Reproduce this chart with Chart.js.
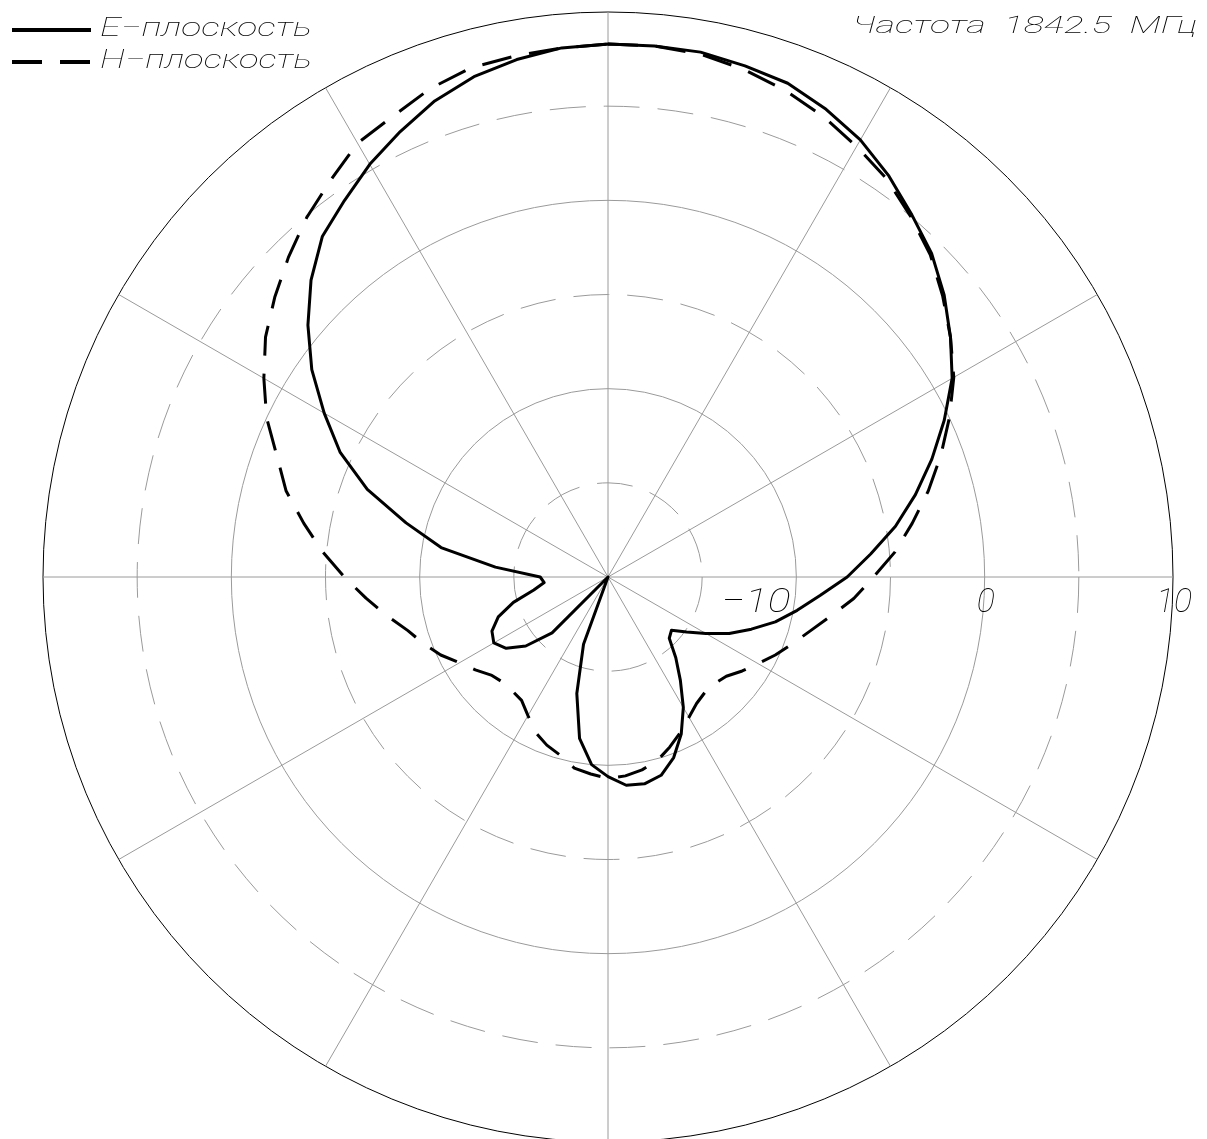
<!DOCTYPE html>
<html>
<head>
<meta charset="utf-8">
<script src="https://cdn.jsdelivr.net/npm/chart.js@4.4.1/dist/chart.umd.min.js"></script>
<style>
  html, body { margin: 0; padding: 0; overflow: hidden; background: #fff; }
  #wrap { position: relative; width: 1207px; height: 1156px; }
</style>
</head>
<body>
<div id="wrap"><canvas id="patternChart"></canvas></div>
<script>
// angle in degrees, clockwise from the top
const angles = [0, 5, 10, 15, 20, 25, 30, 35, 40, 45, 50, 55,
                60, 65, 70, 75, 80, 85, 90, 95, 100, 105, 110, 115,
                120, 125, 130, 135, 140, 145, 150, 155, 160, 165, 170, 175,
                180, 185, 190, 195, 200, 205, 210, 215, 220, 225, 230, 235,
                240, 245, 250, 255, 260, 265, 270, 275, 280, 285, 290, 295,
                300, 305, 310, 315, 320, 325, 330, 335, 340, 345, 350, 355];

// level, dB
const ePlane = [8.3, 8.3, 8.3, 8.1, 7.9, 7.4, 6.8, 6.0, 5.1, 4.3, 3.3, 2.2,
                1.1, -0.3, -1.7, -3.1, -4.5, -6.0, -7.3, -8.7, -9.8, -10.8, -11.9, -12.9,
                -14.0, -14.9, -15.6, -15.4, -14.4, -13.3, -12.0, -10.8, -9.8, -9.1, -8.85, -8.9,
                -9.4, -10.0, -11.3, -13.6, -16.2, -20, -20, -20, -20, -15.8, -14.3, -13.4,
                -13.0, -13.2, -13.8, -14.8, -16.0, -16.6, -16.4, -14.0, -11.0, -8.9, -6.4, -4.3,
                -2.6, -0.8, 0.8, 2.3, 3.6, 4.4, 5.3, 6.1, 6.9, 7.5, 7.9, 8.2];

const hPlane = [8.3, 8.3, 8.2, 7.9, 7.5, 7.0, 6.4, 5.8, 5.0, 4.2, 3.2, 2.2,
                1.2, 0.0, -1.2, -2.4, -3.6, -4.7, -5.9, -6.9, -8.0, -8.9, -9.6, -10.2,
                -10.8, -11.3, -11.8, -12.0, -12.0, -11.8, -11.4, -10.9, -10.4, -9.9, -9.6, -9.4,
                -9.3, -9.5, -9.7, -10.2, -10.5, -10.9, -11.5, -12.0, -12.1, -12.1, -11.9, -11.4,
                -10.9, -10.2, -9.6, -9.0, -8.1, -7.1, -6.0, -4.8, -3.6, -2.3, -1.3, 0.0,
                1.1, 2.2, 3.1, 4.0, 4.9, 5.7, 6.6, 7.0, 7.6, 8.0, 8.1, 8.2];

const tickLabels = [-10, 0, 10];
const seriesNames = ['E\u2212плоскость', 'H\u2212плоскость'];
const titleText = 'Частота  1842.5  МГц';

const textFont = '"Roboto", "DejaVu Sans", sans-serif';

// text squeezed or stretched to a given width (the original uses a wide CAD font)
function fitText(ctx, text, x, y, width) {
    const w = ctx.measureText(text).width;
    ctx.save();
    ctx.textAlign = 'left';
    ctx.translate(x, y);
    ctx.scale(width / w, 1);
    ctx.fillText(text, 0, 0);
    ctx.restore();
}

const patternText = {
    id: 'patternText',
    afterDraw(chart) {
        const ctx = chart.ctx;
        const r = chart.scales.r;
        const rightIdx = angles.indexOf(90);
        ctx.save();
        ctx.fillStyle = '#000';
        ctx.textBaseline = 'alphabetic';

        // tick labels along the 90 deg spoke
        ctx.font = 'italic 100 34px ' + textFont;
        tickLabels.forEach(v => {
            const p = r.getPointPositionForValue(rightIdx, v);
            if (v < 0) {
                fitText(ctx, '\u2212' + Math.abs(v), p.x - 75, p.y + 35, 69);
            } else {
                ctx.textAlign = 'center';
                ctx.fillText(String(v), p.x + 1, p.y + 35);
            }
        });

        // legend
        ctx.font = 'italic 100 26px ' + textFont;
        chart.data.datasets.forEach((ds, i) => {
            const y = 30 + i * 32;
            ctx.save();
            ctx.strokeStyle = ds.borderColor;
            ctx.lineWidth = 4;
            ctx.setLineDash(ds.borderDash || []);
            ctx.beginPath();
            ctx.moveTo(12, y);
            ctx.lineTo(91, y);
            ctx.stroke();
            ctx.restore();
            fitText(ctx, ds.label, 100, y + 6, 212);
        });

        // frequency
        ctx.font = 'italic 100 24px ' + textFont;
        fitText(ctx, titleText, 852, 33, 345);
        ctx.restore();
    }
};

new Chart(document.getElementById('patternChart'), {
    type: 'radar',
    data: {
        labels: angles,
        datasets: [
            {
                label: seriesNames[0],
                data: ePlane,
                borderColor: '#000',
                borderWidth: 3,
                fill: false,
                pointRadius: 0,
                borderJoinStyle: 'round'
            },
            {
                label: seriesNames[1],
                data: hPlane,
                borderColor: '#000',
                borderWidth: 3,
                borderDash: [30, 18],
                fill: false,
                pointRadius: 0,
                borderJoinStyle: 'round'
            }
        ]
    },
    options: {
        responsive: true,
        maintainAspectRatio: false,
        animation: false,
        layout: {
            padding: { left: 43, right: 34, top: 12, bottom: 14 }
        },
        plugins: {
            legend: { display: false },
            title: { display: false },
            tooltip: { enabled: false }
        },
        scales: {
            r: {
                min: -20,
                max: 10,
                ticks: { stepSize: 5, display: false },
                pointLabels: { display: false },
                grid: {
                    circular: true,
                    color: ctx => ctx.tick.value === 10 ? '#000' : '#9a9a9a',
                    lineWidth: 1
                },
                border: {
                    dash: ctx => ctx.tick.value % 10 !== 0 ? [36, 18] : []
                },
                angleLines: {
                    color: '#9a9a9a',
                    lineWidth: ctx => ctx.index % 6 === 0 ? 1 : 0
                }
            }
        }
    },
    plugins: [patternText]
});
</script>
</body>
</html>
